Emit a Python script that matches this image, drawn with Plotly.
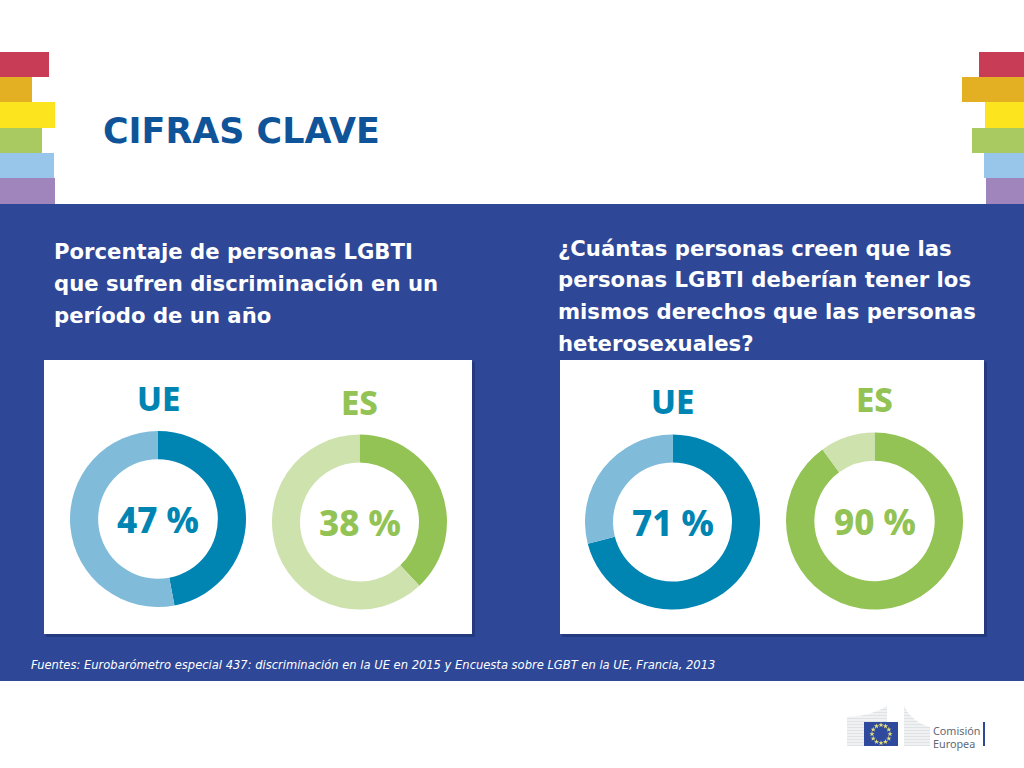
"""
CIFRAS CLAVE: slide with four donut charts
"""

import math
import plotly.graph_objects as go

W, H = 1024, 768

# Data
title = "CIFRAS CLAVE"
left_question = ["Porcentaje de personas LGBTI",
                 "que sufren discriminación en un",
                 "período de un año"]
right_question = ["¿Cuántas personas creen que las",
                  "personas LGBTI deberían tener los",
                  "mismos derechos que las personas",
                  "heterosexuales?"]
source_text = ("Fuentes: Eurobarómetro especial 437: discriminación en la UE en 2015 "
               "y Encuesta sobre LGBT en la UE, Francia, 2013")

donut_names = ["UE", "ES", "UE", "ES"]
donut_yes = [47, 38, 71, 90]
donut_rest = [53, 62, 29, 10]
donut_labels = ["47 %", "38 %", "71 %", "90 %"]

# Layout: centre x, centre y, radius, label y, name y
donut_pos = [(158, 519, 88, 519, 398),
             (359.5, 522, 87.5, 522, 402),
             (672.5, 522, 87.5, 522, 401),
             (874.5, 521, 88.5, 521, 399)]

BLUE, BLUE_LIGHT = "#0085B3", "#80BBDA"
GREEN, GREEN_LIGHT = "#93C355", "#CEE2AE"
donut_colors = [(BLUE, BLUE_LIGHT), (GREEN, GREEN_LIGHT), (BLUE, BLUE_LIGHT), (GREEN, GREEN_LIGHT)]

NAVY = "#2E4797"
stripe_colors = ["#C83C55", "#E3AF23", "#FCE51E", "#A9C961", "#97C6EA", "#9F85BC"]
stripe_left_end = [49, 32, 55, 42, 54, 55]
stripe_right_start = [979, 962, 985, 972, 984, 986]
stripe_edges = [52, 77, 102, 128, 153, 178, 204]

fig = go.Figure()


def rect(x0, y0, x1, y1, color):
    fig.add_shape(type="rect", x0=x0, y0=y0, x1=x1, y1=y1, layer="below",
                  fillcolor=color, line_width=0)


def text(x, y, s, size, color, family="DejaVu Sans", weight="normal", italic=False, anchor="left"):
    fig.add_annotation(x=x, y=y, text=s, showarrow=False, xanchor=anchor, yanchor="middle",
                       font=dict(size=size, color=color, family=family, weight=weight,
                                 style="italic" if italic else "normal"))


# Background band and rainbow stripes
rect(0, 204, W, 681, NAVY)
for i, c in enumerate(stripe_colors):
    rect(0, stripe_edges[i], stripe_left_end[i], stripe_edges[i + 1], c)
    rect(stripe_right_start[i], stripe_edges[i], W, stripe_edges[i + 1], c)

# White panels with a small shadow
for x0, x1 in [(44, 472), (560, 984)]:
    rect(x0 + 2, 362, x1 + 3, 637, "#233A80")
    rect(x0, 360, x1, 634, "#FFFFFF")

# Donuts
for i, (cx, cy, r, ly, ny) in enumerate(donut_pos):
    fig.add_trace(go.Pie(
        values=[donut_yes[i], donut_rest[i]],
        labels=["Sí", "Resto"],
        marker=dict(colors=list(donut_colors[i]), line_width=0),
        hole=0.68, sort=False, direction="clockwise", rotation=0,
        textinfo="none", showlegend=False,
        domain=dict(x=[(cx - r) / W, (cx + r) / W],
                    y=[1 - (cy + r) / H, 1 - (cy - r) / H])
    ))
    c = donut_colors[i][0]
    text(cx, ly, donut_labels[i], 35, c, family="Noto Sans", weight=800, anchor="center")
    text(cx, ny, donut_names[i], 33, c, family="Noto Sans", weight=800, anchor="center")

# Text blocks
text(101, 131, title, 34.9, "#0F5499", weight="bold")
for i, line in enumerate(left_question):
    text(52, 251 + i * 32, line, 21.2, "#FFFFFF", weight="bold")
for i, line in enumerate(right_question):
    text(556, 248 + i * 31.7, line, 21.2, "#FFFFFF", weight="bold")
text(29, 665, source_text, 11.53, "#FFFFFF", italic=True)

# Comisión Europea logo
fig.add_shape(type="path", path="M847,717 Q872,716 887,706 L887,746 L847,746 Z",
              layer="below", fillcolor="#E0E3E6", line_width=0)
fig.add_shape(type="path", path="M904,706 Q912,722 930,727 L930,746 L904,746 Z",
              layer="below", fillcolor="#E0E3E6", line_width=0)
for y in range(708, 746, 3):
    fig.add_shape(type="line", x0=847, x1=930, y0=y, y1=y, layer="below",
                  line=dict(color="#FFFFFF", width=1))
rect(887, 700, 904, 750, "#FFFFFF")
rect(864, 722, 898, 746, "#2F4A9C")
angles = [math.radians(a * 30) for a in range(12)]
fig.add_trace(go.Scatter(
    x=[881 + 9 * math.cos(a) for a in angles],
    y=[734 + 9 * math.sin(a) for a in angles],
    mode="markers", hoverinfo="skip", showlegend=False,
    marker=dict(symbol="star", size=4, color="#E9E27A")
))
text(931, 730, "Comisión", 10.8, "#5F6875", family="Noto Sans")
text(931, 743, "Europea", 10.8, "#5F6875", family="Noto Sans")
rect(983, 722, 985, 746, NAVY)

fig.update_layout(
    width=W, height=H,
    margin=dict(l=0, r=0, t=0, b=0),
    paper_bgcolor="#FFFFFF", plot_bgcolor="rgba(0,0,0,0)",
    xaxis=dict(range=[0, W], visible=False, fixedrange=True),
    yaxis=dict(range=[H, 0], visible=False, fixedrange=True),
    showlegend=False
)

fig.write_html("out.html", config=dict(displayModeBar=False),
               post_script="document.body.style.margin='0';document.body.style.overflow='hidden';")
